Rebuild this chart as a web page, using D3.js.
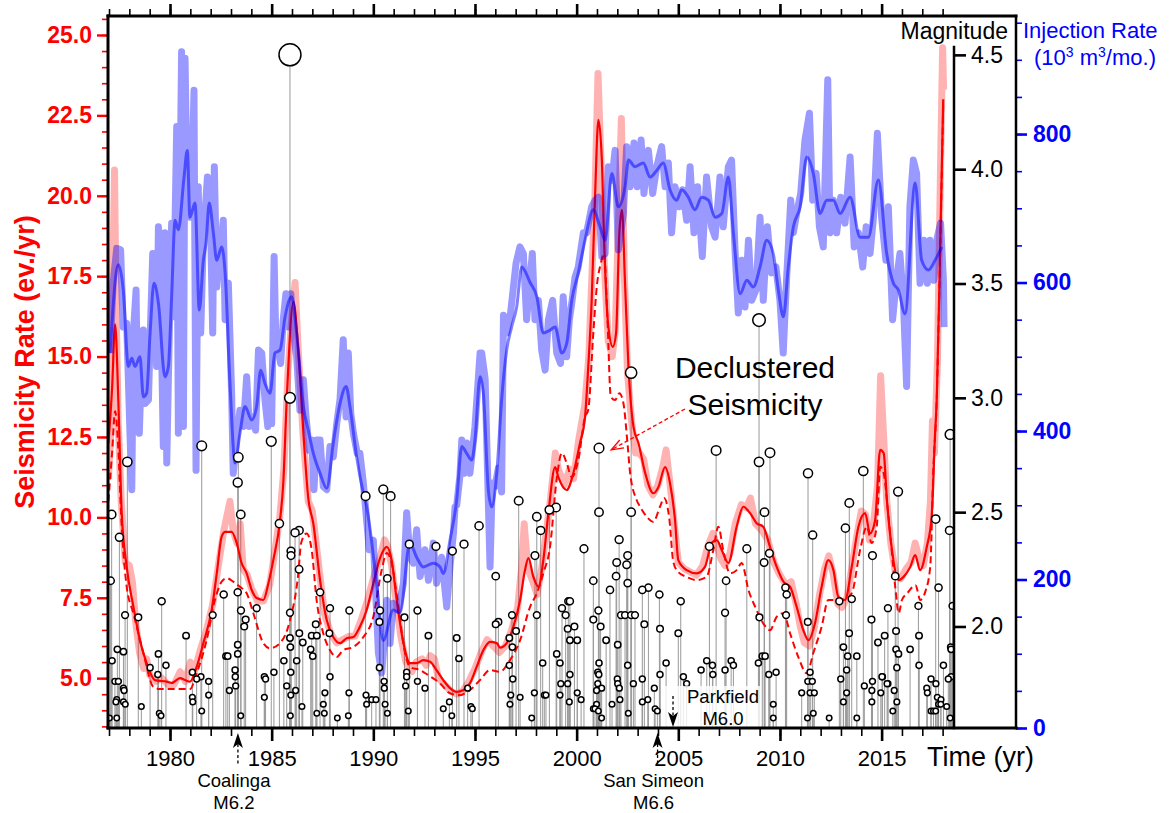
<!DOCTYPE html>
<html>
<head>
<meta charset="utf-8">
<script src="https://cdn.jsdelivr.net/npm/d3@7"></script>
<style>
  body { margin: 0; background: #fff; }
</style>
</head>
<body>
<svg id="chart" width="1174" height="813"></svg>
<script>
// ---- data ----
const yearTicks = [1980, 1985, 1990, 1995, 2000, 2005, 2010, 2015];
const rateTicks = [5, 7.5, 10, 12.5, 15, 17.5, 20, 22.5, 25];
const magTicks = [2.0, 2.5, 3.0, 3.5, 4.0, 4.5];
const injTicks = [0, 200, 400, 600, 800];

// monthly injection rate (10^3 m^3/mo.), raw
const injRaw = [[1977.05,505],[1977.2,599],[1977.38,646],[1977.57,644],[1977.7,540],[1977.87,545],[1978.03,397],[1978.12,321],[1978.2,532],[1978.33,590],[1978.39,464],[1978.49,397],[1978.61,500],[1978.69,536],[1978.77,437],[1978.94,442],[1979.02,523],[1979.15,639],[1979.26,613],[1979.34,487],[1979.43,675],[1979.51,630],[1979.67,379],[1979.75,667],[1979.84,357],[1980.0,581],[1980.08,680],[1980.16,554],[1980.25,684],[1980.33,810],[1980.41,397],[1980.49,720],[1980.57,911],[1980.66,406],[1980.74,902],[1980.85,711],[1980.9,715],[1980.98,688],[1981.07,729],[1981.18,859],[1981.28,347],[1981.39,729],[1981.51,532],[1981.64,661],[1981.84,742],[1981.97,711],[1982.1,532],[1982.18,756],[1982.3,594],[1982.43,639],[1982.49,648],[1982.62,684],[1982.71,550],[1982.87,599],[1983.03,451],[1983.11,343],[1983.28,392],[1983.44,428],[1983.61,406],[1983.77,473],[1983.9,406],[1984.07,419],[1984.21,401],[1984.35,509],[1984.51,505],[1984.67,442],[1984.81,406],[1984.92,451],[1985.0,410],[1985.12,635],[1985.21,514],[1985.33,509],[1985.44,491],[1985.57,550],[1985.7,585],[1985.82,540],[1985.94,585],[1986.07,532],[1986.23,500],[1986.39,428],[1986.56,469],[1986.69,419],[1986.85,374],[1986.97,388],[1987.08,321],[1987.21,388],[1987.38,388],[1987.54,325],[1987.71,321],[1987.87,379],[1988.03,365],[1988.2,410],[1988.36,442],[1988.52,523],[1988.66,419],[1988.77,505],[1988.89,424],[1989.02,397],[1989.21,370],[1989.34,370],[1989.51,330],[1989.67,280],[1989.8,240],[1990.0,253],[1990.25,101],[1990.41,74],[1990.57,128],[1990.66,172],[1990.82,114],[1990.98,168],[1991.23,159],[1991.48,195],[1991.64,290],[1991.8,230],[1991.97,222],[1992.13,267],[1992.3,204],[1992.54,240],[1992.71,199],[1992.95,249],[1993.11,195],[1993.36,230],[1993.61,163],[1993.77,217],[1993.94,262],[1994.02,298],[1994.1,300],[1994.26,340],[1994.35,388],[1994.46,343],[1994.59,384],[1994.75,343],[1995.0,406],[1995.25,505],[1995.33,505],[1995.5,470],[1995.74,217],[1995.85,330],[1995.98,325],[1996.15,350],[1996.31,318],[1996.4,556],[1996.56,532],[1996.75,559],[1997.02,626],[1997.21,648],[1997.38,639],[1997.54,550],[1997.82,639],[1997.95,550],[1998.12,576],[1998.28,509],[1998.45,482],[1998.61,550],[1998.82,576],[1999.02,505],[1999.21,491],[1999.34,581],[1999.51,500],[1999.64,550],[1999.76,572],[1999.92,607],[2000.08,621],[2000.33,667],[2000.49,667],[2000.74,702],[2000.91,711],[2001.07,715],[2001.24,635],[2001.4,639],[2001.56,756],[2001.73,738],[2001.89,778],[2002.05,644],[2002.3,693],[2002.46,783],[2002.63,729],[2002.82,788],[2002.98,729],[2003.17,792],[2003.31,720],[2003.53,778],[2003.74,720],[2003.94,756],[2004.18,783],[2004.35,729],[2004.51,761],[2004.67,667],[2004.84,729],[2005.05,702],[2005.21,725],[2005.41,684],[2005.58,756],[2005.77,667],[2005.95,729],[2006.18,635],[2006.39,742],[2006.64,675],[2006.81,661],[2007.05,742],[2007.21,675],[2007.46,756],[2007.62,765],[2007.79,644],[2007.95,559],[2008.12,630],[2008.28,567],[2008.45,657],[2008.61,576],[2008.82,590],[2009.02,688],[2009.18,576],[2009.38,675],[2009.59,613],[2009.8,621],[2010.0,576],[2010.16,505],[2010.33,607],[2010.53,711],[2010.66,667],[2010.82,693],[2011.02,720],[2011.23,792],[2011.45,828],[2011.61,711],[2011.78,747],[2011.94,675],[2012.13,648],[2012.35,873],[2012.46,667],[2012.63,711],[2012.79,667],[2012.99,715],[2013.2,680],[2013.45,769],[2013.65,648],[2013.86,667],[2014.07,621],[2014.24,675],[2014.43,639],[2014.6,688],[2014.79,801],[2015.0,688],[2015.21,630],[2015.33,702],[2015.54,550],[2015.71,599],[2015.9,639],[2016.07,576],[2016.23,460],[2016.39,702],[2016.56,765],[2016.72,747],[2016.89,599],[2017.08,657],[2017.25,599],[2017.38,657],[2017.57,603],[2017.74,661],[2017.9,680],[2018.04,603],[2018.07,540]];

// injection rate, smoothed
const injSmooth = [[1977.05,505],[1977.46,624],[1977.7,590],[1977.95,487],[1978.12,498],[1978.28,487],[1978.52,500],[1978.69,446],[1978.85,451],[1979.02,532],[1979.21,599],[1979.43,572],[1979.75,473],[1979.92,487],[1980.08,581],[1980.25,684],[1980.41,671],[1980.69,742],[1980.85,778],[1980.98,688],[1981.23,707],[1981.44,563],[1981.64,630],[1981.77,653],[1981.93,707],[1982.13,667],[1982.3,630],[1982.54,648],[1982.71,613],[1982.95,464],[1983.2,357],[1983.44,397],[1983.69,433],[1984.02,415],[1984.26,433],[1984.46,482],[1984.67,464],[1984.92,451],[1985.16,505],[1985.41,509],[1985.66,554],[1985.98,581],[1986.23,532],[1986.56,433],[1986.8,401],[1987.05,370],[1987.38,343],[1987.71,323],[1988.03,384],[1988.36,437],[1988.66,460],[1988.85,433],[1989.18,365],[1989.51,316],[1989.67,298],[1990.16,195],[1990.49,118],[1990.98,159],[1991.31,155],[1991.8,249],[1992.13,230],[1992.46,217],[1992.95,222],[1993.28,217],[1993.44,208],[1993.77,253],[1994.1,307],[1994.35,379],[1994.59,370],[1994.84,361],[1995.0,388],[1995.25,473],[1995.41,451],[1995.66,320],[1995.82,298],[1996.07,343],[1996.31,442],[1996.56,509],[1996.8,540],[1997.05,567],[1997.3,621],[1997.71,600],[1998.04,581],[1998.36,532],[1998.69,536],[1998.94,540],[1999.27,505],[1999.51,518],[1999.76,576],[2000.08,613],[2000.41,657],[2000.82,698],[2001.15,675],[2001.4,657],[2001.73,747],[2002.05,702],[2002.38,729],[2002.55,765],[2002.87,756],[2003.28,761],[2003.61,742],[2003.94,751],[2004.26,761],[2004.59,725],[2004.92,711],[2005.17,725],[2005.49,715],[2005.82,698],[2006.15,715],[2006.48,711],[2006.81,688],[2007.14,693],[2007.46,742],[2007.71,667],[2008.04,585],[2008.37,603],[2008.69,594],[2009.02,621],[2009.35,657],[2009.67,639],[2009.92,590],[2010.17,554],[2010.41,621],[2010.66,675],[2010.99,702],[2011.32,769],[2011.64,747],[2011.97,693],[2012.3,711],[2012.63,711],[2012.96,693],[2013.45,715],[2013.94,661],[2014.35,661],[2014.84,738],[2015.25,639],[2015.58,599],[2015.82,590],[2016.15,558],[2016.65,734],[2016.97,630],[2017.3,617],[2017.63,630],[2017.96,648]];

// seismicity rate (ev./yr), raw
const seisRaw = [[1976.97,11.2],[1977.1,12.8],[1977.2,18.0],[1977.27,20.8],[1977.35,16.5],[1977.45,13.0],[1977.6,10.5],[1977.8,8.6],[1978.0,8.5],[1978.15,8.0],[1978.3,6.8],[1978.5,5.8],[1978.7,5.3],[1978.85,5.6],[1979.0,5.1],[1979.3,4.9],[1979.6,5.0],[1979.9,4.8],[1980.2,4.8],[1980.5,5.2],[1980.75,4.9],[1981.0,5.5],[1981.2,5.2],[1981.5,5.9],[1981.8,6.5],[1982.1,7.3],[1982.4,8.6],[1982.65,9.6],[1982.95,10.5],[1983.1,9.6],[1983.3,9.2],[1983.45,9.8],[1983.6,8.4],[1983.8,8.2],[1984.0,7.8],[1984.3,7.4],[1984.6,7.4],[1984.9,7.9],[1985.1,8.7],[1985.4,10.0],[1985.6,11.5],[1985.8,14.5],[1986.0,16.3],[1986.15,17.3],[1986.3,15.3],[1986.55,12.5],[1986.8,10.5],[1987.0,10.2],[1987.15,9.4],[1987.35,8.3],[1987.6,7.0],[1987.9,6.4],[1988.2,6.1],[1988.5,6.2],[1988.8,6.3],[1989.1,6.3],[1989.4,6.8],[1989.7,7.4],[1990.0,8.1],[1990.3,8.7],[1990.55,9.3],[1990.7,9.1],[1990.9,8.5],[1991.1,7.5],[1991.35,6.3],[1991.6,5.5],[1991.9,5.2],[1992.1,5.5],[1992.4,5.6],[1992.6,5.4],[1992.8,5.7],[1993.0,5.6],[1993.2,5.0],[1993.5,4.8],[1993.8,4.6],[1994.1,4.5],[1994.4,4.6],[1994.7,4.9],[1995.0,5.3],[1995.3,5.8],[1995.6,6.2],[1995.9,6.0],[1996.2,5.8],[1996.5,6.0],[1996.8,6.5],[1997.1,7.2],[1997.3,8.5],[1997.42,9.8],[1997.6,8.4],[1997.85,8.0],[1998.05,7.6],[1998.3,8.5],[1998.5,9.5],[1998.7,10.5],[1998.95,12.0],[1999.1,11.5],[1999.4,11.0],[1999.65,11.5],[1999.85,11.2],[2000.1,12.4],[2000.4,13.5],[2000.6,15.0],[2000.75,17.5],[2000.9,20.0],[2001.05,23.8],[2001.2,21.0],[2001.35,18.0],[2001.55,15.5],[2001.75,15.0],[2001.9,15.8],[2002.05,19.0],[2002.2,22.4],[2002.35,17.5],[2002.5,14.5],[2002.7,13.0],[2002.9,12.0],[2003.1,12.0],[2003.3,11.8],[2003.5,11.0],[2003.75,10.7],[2004.0,11.0],[2004.25,11.6],[2004.4,12.1],[2004.6,11.0],[2004.8,9.8],[2005.0,8.6],[2005.3,8.4],[2005.6,8.3],[2005.9,8.2],[2006.2,8.5],[2006.45,9.1],[2006.7,9.5],[2006.9,9.1],[2007.1,8.7],[2007.3,8.5],[2007.55,8.9],[2007.8,9.8],[2008.1,10.4],[2008.35,10.3],[2008.55,10.6],[2008.8,9.8],[2009.1,9.6],[2009.4,9.3],[2009.7,8.6],[2010.0,8.2],[2010.3,7.9],[2010.55,8.0],[2010.8,7.3],[2011.0,6.6],[2011.2,6.1],[2011.45,6.0],[2011.7,6.6],[2011.95,7.6],[2012.2,8.4],[2012.4,8.8],[2012.6,8.3],[2012.85,7.3],[2013.05,7.2],[2013.3,7.5],[2013.55,8.5],[2013.8,9.5],[2014.0,10.2],[2014.2,10.1],[2014.4,9.3],[2014.6,9.8],[2014.8,11.0],[2014.95,14.4],[2015.1,12.5],[2015.25,10.5],[2015.45,9.2],[2015.7,8.2],[2015.95,8.1],[2016.2,8.4],[2016.45,8.6],[2016.65,9.2],[2016.85,8.7],[2017.05,8.5],[2017.25,9.2],[2017.4,10.5],[2017.5,13.0],[2017.6,12.0],[2017.75,15.0],[2017.9,21.0],[2018.0,24.6],[2018.05,23.3]];

// seismicity rate, smoothed
const seisSmooth = [[1976.97,12.3],[1977.15,14.0],[1977.3,16.0],[1977.46,13.6],[1977.62,10.2],[1977.87,8.46],[1978.2,7.22],[1978.52,6.18],[1978.85,5.47],[1979.26,4.94],[1979.84,4.89],[1980.08,4.85],[1980.49,5.0],[1980.74,4.94],[1980.98,4.89],[1981.31,5.35],[1981.64,6.09],[1982.05,7.12],[1982.3,8.26],[1982.54,9.4],[1982.71,9.55],[1983.03,9.55],[1983.28,9.2],[1983.52,8.58],[1983.77,8.26],[1984.02,7.74],[1984.26,7.49],[1984.59,7.43],[1984.84,7.95],[1985.08,8.67],[1985.41,9.91],[1985.57,11.06],[1985.74,13.65],[1986.07,16.7],[1986.31,15.2],[1986.56,12.62],[1986.8,10.6],[1987.05,9.8],[1987.38,8.05],[1987.71,6.8],[1988.03,6.28],[1988.36,6.09],[1988.69,6.24],[1989.02,6.28],[1989.34,6.6],[1989.67,7.12],[1990.0,7.95],[1990.33,8.73],[1990.66,9.08],[1990.9,8.67],[1991.15,7.43],[1991.48,6.09],[1991.8,5.47],[1992.13,5.47],[1992.46,5.56],[1992.79,5.51],[1993.11,5.25],[1993.44,4.94],[1993.77,4.69],[1994.1,4.57],[1994.43,4.63],[1994.75,4.84],[1995.08,5.35],[1995.41,5.87],[1995.74,6.13],[1996.07,6.09],[1996.23,5.95],[1996.56,6.09],[1996.89,6.6],[1997.22,7.43],[1997.46,8.36],[1997.63,8.73],[1997.87,8.15],[1998.12,7.84],[1998.36,8.67],[1998.61,10.13],[1998.94,11.56],[1999.1,11.25],[1999.51,10.85],[1999.84,11.38],[2000.16,12.3],[2000.41,13.1],[2000.57,14.67],[2000.74,16.76],[2000.9,19.87],[2001.07,22.36],[2001.24,21.11],[2001.35,18.62],[2001.56,15.92],[2001.78,15.3],[2001.94,15.73],[2002.1,18.84],[2002.23,19.56],[2002.38,17.28],[2002.55,14.67],[2002.8,12.8],[2003.04,12.31],[2003.37,11.38],[2003.77,10.75],[2004.02,10.94],[2004.35,11.56],[2004.59,11.07],[2004.84,9.91],[2005.0,8.67],[2005.41,8.36],[2005.9,8.26],[2006.31,8.46],[2006.64,9.2],[2006.89,9.29],[2007.14,8.98],[2007.46,8.58],[2007.87,9.71],[2008.2,10.33],[2008.53,10.13],[2008.85,9.82],[2009.18,9.71],[2009.51,9.08],[2009.84,8.46],[2010.17,8.0],[2010.5,7.84],[2010.82,7.22],[2011.15,6.49],[2011.4,6.18],[2011.72,6.7],[2012.05,7.84],[2012.38,8.67],[2012.63,8.36],[2012.87,7.53],[2013.2,7.43],[2013.53,8.46],[2013.86,9.71],[2014.19,10.13],[2014.43,9.5],[2014.68,9.91],[2014.93,12.1],[2015.1,12.0],[2015.26,10.54],[2015.51,8.98],[2015.84,8.05],[2016.08,8.15],[2016.41,8.46],[2016.65,8.83],[2016.89,8.36],[2017.22,9.08],[2017.46,10.02],[2017.63,12.62],[2017.71,13.65],[2017.85,17.5],[2018.03,23.0]];

// declustered seismicity rate
const seisDeclustered = [[1976.97,10.5],[1977.15,12.0],[1977.3,13.3],[1977.45,12.2],[1977.6,10.0],[1977.87,7.84],[1978.2,7.02],[1978.69,5.78],[1979.18,4.73],[1979.51,4.66],[1980.0,4.66],[1980.98,4.66],[1981.31,5.15],[1981.8,6.18],[1982.21,7.43],[1982.54,8.0],[1982.79,8.11],[1983.11,8.0],[1983.44,7.84],[1983.77,7.64],[1984.1,7.02],[1984.59,6.09],[1984.92,5.93],[1985.41,6.09],[1985.9,6.8],[1986.31,8.26],[1986.45,9.2],[1986.72,9.5],[1986.97,8.98],[1987.21,7.43],[1987.54,6.39],[1987.87,5.87],[1988.2,5.66],[1988.52,5.87],[1989.02,5.97],[1989.51,6.28],[1990.0,6.91],[1990.41,8.36],[1990.66,8.89],[1990.9,8.58],[1991.23,7.22],[1991.56,5.78],[1991.8,5.35],[1992.3,5.25],[1992.71,5.09],[1993.28,4.84],[1993.77,4.53],[1994.26,4.47],[1994.75,4.63],[1995.25,4.94],[1995.74,5.25],[1996.23,5.2],[1996.72,5.56],[1997.22,6.18],[1997.71,7.22],[1998.04,7.64],[1998.36,8.26],[1998.69,9.08],[1999.02,11.2],[1999.27,12.0],[1999.51,11.69],[1999.76,11.25],[2000.08,11.78],[2000.41,13.12],[2000.57,13.34],[2000.82,15.73],[2000.99,17.17],[2001.19,17.9],[2001.35,18.2],[2001.51,16.23],[2001.68,13.75],[2001.89,13.65],[2002.1,13.86],[2002.3,13.55],[2002.5,12.31],[2002.63,11.38],[2002.95,10.54],[2003.12,10.33],[2003.45,10.02],[2003.77,9.86],[2004.1,10.33],[2004.3,10.6],[2004.55,10.0],[2004.76,8.6],[2005.0,8.3],[2005.41,8.15],[2005.9,8.05],[2006.39,8.15],[2006.72,8.98],[2006.97,9.71],[2007.21,8.98],[2007.54,8.26],[2007.87,8.36],[2008.12,8.58],[2008.45,7.74],[2008.78,7.22],[2009.18,6.7],[2009.51,6.49],[2009.84,6.91],[2010.17,7.02],[2010.5,6.39],[2010.9,5.66],[2011.32,5.15],[2011.64,5.78],[2012.05,6.6],[2012.38,7.43],[2012.79,7.43],[2013.12,7.43],[2013.53,7.64],[2013.94,8.98],[2014.27,9.71],[2014.51,9.2],[2014.76,9.71],[2014.93,11.57],[2015.1,11.37],[2015.34,10.02],[2015.67,7.84],[2015.84,7.02],[2016.0,7.43],[2016.26,7.64],[2016.67,7.89],[2016.9,7.43],[2017.15,7.69],[2017.39,8.46],[2017.55,11.57],[2017.71,13.65],[2017.85,17.4],[2018.03,22.9]];

// earthquakes: [decimal year, magnitude]
const quakes = [[1977.13,2.49],[1977.9,2.72],[1981.56,2.79],[1983.36,2.74],[1983.33,2.63],[1983.48,2.49],[1984.98,2.81],[1985.9,3.0],[1985.9,4.5],[1989.62,2.57],[1990.49,2.6],[1990.85,2.57],[1997.15,2.55],
[2008.97,3.34],[2002.68,3.11],[2001.1,2.78],[2006.86,2.77],[2008.97,2.72],[2009.51,2.76],[2011.38,2.67],[2014.1,2.68],[2015.81,2.59],[2018.37,2.84],[2013.41,2.54],[1998.66,2.51],[1998.99,2.52],[1998.04,2.48],[2001.1,2.5],[2002.68,2.5],[2009.24,2.5],[2017.66,2.47],
[1977.51,2.39],[1977.08,2.2],[1977.15,1.85],[1977.79,2.05],[1977.41,1.9],[1977.71,1.89],[1977.29,1.76],[1977.46,1.76],[1977.71,1.73],[1977.74,1.72],[1977.38,1.68],[1977.34,1.67],[1977.71,1.67],[1977.8,1.66],[1977.38,1.6],[1977.02,1.6],[1978.44,2.04],[1978.59,1.65],[1979.02,1.82],[1979.43,1.88],[1979.59,2.11],[1979.4,1.79],[1979.8,1.83],[1979.47,1.62],[1979.56,1.61],[1980.79,1.96],[1981.1,1.8],[1981.1,1.69],[1981.12,1.67],[1981.31,1.77],[1981.52,1.78],[1981.56,1.63],[1981.9,1.76],[1981.9,1.7],[1982.1,2.05],[1982.64,2.14],[1982.75,1.87],[1982.84,1.87],[1982.92,1.72],[1983.2,1.81],[1983.21,1.78],[1983.23,1.74],[1983.33,1.92],[1983.33,1.88],[1983.33,2.15],[1983.49,2.07],[1983.72,2.03],[1983.65,2.0],[1983.48,1.61],[1984.26,2.08],[1984.64,1.78],[1984.7,1.77],[1984.64,1.69],[1985.11,1.8],[1985.38,2.45],[1985.95,2.33],[1985.95,2.31],[1986.35,2.25],[1986.15,2.41],[1986.35,2.42],[1985.9,2.06],[1985.9,1.95],[1985.92,1.91],[1986.36,1.97],[1986.23,1.85],[1985.94,1.8],[1985.6,1.85],[1985.74,1.74],[1985.94,1.7],[1986.18,1.72],[1985.92,1.61],[1986.53,1.93],[1986.49,1.65],[1986.92,1.9],[1987.02,1.87],[1986.97,1.96],[1987.22,1.96],[1987.17,2.01],[1987.38,2.15],[1987.87,2.08],[1987.84,1.97],[1987.87,1.78],[1987.62,1.71],[1987.54,1.66],[1987.59,1.62],[1987.22,1.62],[1988.23,1.6],[1988.77,1.61],[1988.82,2.07],[1988.8,1.71],[1989.64,1.7],[1989.67,1.66],[1989.92,1.68],[1990.13,1.68],[1990.3,1.82],[1990.33,2.07],[1990.3,2.02],[1990.69,2.21],[1990.53,1.76],[1990.54,1.73],[1990.58,1.66],[1990.69,1.62],[1991.53,2.04],[1991.77,2.36],[1992.17,2.07],[1991.64,1.8],[1991.64,1.78],[1991.59,1.74],[1992.17,1.76],[1991.72,1.63],[1992.54,1.73],[1992.71,1.96],[1993.08,2.35],[1993.89,2.33],[1994.46,2.36],[1995.2,2.44],[1994.1,1.95],[1994.21,1.86],[1993.44,1.64],[1993.74,1.67],[1993.86,1.61],[1994.64,1.73],[1994.8,1.65],[1994.87,1.64],[1996.02,2.22],[1996.02,2.01],[1996.15,2.02],
[1998.23,2.42],[1997.95,2.31],[1998.04,2.05],[1996.82,2.05],[1996.69,1.95],[1996.84,1.91],[1997.02,1.98],[1996.69,1.83],[1996.86,1.77],[1996.76,1.7],[1996.72,1.66],[1997.22,1.69],[1997.79,1.6],[1997.92,1.71],[1998.33,1.84],[1998.41,1.7],[1998.49,1.7],[1999.02,1.88],[1999.18,1.84],[1999.22,1.75],[1999.18,1.7],[1999.28,2.08],[1999.46,2.05],[1999.59,2.11],[1999.67,2.11],[1999.56,1.99],[1999.89,2.0],[1999.67,1.94],[2000.03,1.94],[1999.56,1.75],[1999.67,1.79],[1999.64,1.67],[2000.03,1.71],[2000.22,1.68],[2000.36,2.34],[2000.82,2.2],[2001.07,2.07],[2000.82,2.03],[2001.18,2.0],[2001.1,1.84],[2001.04,1.8],[2001.09,1.79],[2001.04,1.75],[2000.98,1.72],[2001.23,1.73],[2000.98,1.66],[2000.82,1.64],[2000.9,1.64],[2001.07,1.63],[2001.23,1.6],[2001.45,1.94],[2001.64,2.16],[2001.74,1.66],[2001.94,2.22],[2001.97,2.28],[2002.09,2.38],[2002.02,1.92],[2002.0,1.77],[2002.02,1.75],[2002.1,1.73],[2002.13,1.68],[2002.51,2.31],[2002.46,2.27],[2002.51,2.19],[2002.18,2.05],[2002.38,2.05],[2002.68,2.05],[2002.87,2.05],[2002.51,1.83],[2002.79,1.75],[2002.54,1.62],[2003.23,2.16],[2003.53,2.17],[2003.33,2.01],[2003.23,1.77],[2003.23,1.67],[2003.5,1.68],[2003.86,1.64],[2003.97,1.63],[2004.07,2.14],[2004.1,1.99],[2004.1,1.79],[2003.82,1.73],[2005.0,1.97],[2005.12,2.11],[2004.4,1.84],[2005.25,1.78],[2005.41,1.75],[2006.12,1.81],[2006.4,1.85],[2006.68,1.83],[2006.7,1.79],[2007.3,1.81],[2007.3,2.06],[2007.6,1.85],[2007.71,1.83],[2006.53,2.35],[2007.35,2.2],[2008.37,2.34],[2009.22,2.28],[2009.48,2.32],[2008.99,2.04],[2008.94,1.84],[2009.13,1.87],[2009.27,1.87],[2009.45,1.79],[2009.81,1.8],[2009.67,1.66],[2009.67,1.6],[2010.27,2.17],[2010.33,2.14],[2010.3,2.05],[2011.61,2.4],[2011.37,2.02],[2011.48,1.8],[2011.37,1.76],[2011.59,1.76],[2011.48,1.71],[2011.69,1.71],[2011.07,1.71],[2011.64,1.62],[2011.35,1.6],[2012.42,1.6],[2012.92,2.11],[2013.22,2.43],[2013.4,1.97],[2013.12,1.91],[2013.33,1.87],[2012.99,1.77],[2013.28,1.81],[2013.28,1.71],[2013.12,1.67],[2013.78,1.87],[2013.78,1.6],[2013.53,2.12],[2014.55,2.31],[2014.5,2.03],[2015.15,1.96],[2014.82,1.93],[2015.31,2.08],[2015.67,2.22],[2014.15,1.74],[2014.55,1.76],[2014.52,1.72],[2015.04,1.78],[2014.96,1.71],[2015.31,1.75],[2014.52,1.67],[2015.75,1.67],[2015.75,1.82],
[2018.34,2.42],[2017.8,2.17],[2018.49,2.09],[2016.81,2.09],[2015.71,1.98],[2015.71,1.9],[2015.83,1.88],[2016.4,1.9],[2016.84,1.96],[2016.84,1.83],[2018.4,1.91],[2018.42,1.9],[2018.04,1.83],[2017.22,1.73],[2017.25,1.71],[2017.43,1.77],[2017.67,1.75],[2017.74,1.69],[2017.92,1.68],[2017.8,1.66],[2017.91,1.66],[2017.43,1.63],[2017.55,1.63],[2017.66,1.63],[2018.2,1.65],[2018.28,1.77],[2018.42,1.78],[2018.37,1.6],[2015.02,1.78],[2015.27,1.75],[2015.62,1.72],[2015.55,1.63]];

// large regional mainshocks
const mainshocks = [
  { name: "Coalinga", mag: "M6.2", year: 1983.34, dir: "up" },
  { name: "San Simeon", mag: "M6.6", year: 2003.98, dir: "up" },
  { name: "Parkfield", mag: "M6.0", year: 2004.74, dir: "down" }
];

// ---- layout ----
const pLeft = 108, pRight = 954, pTop = 16, pBottom = 728, injAxisX = 1016;
const font = "'Liberation Sans', Arial, Helvetica, sans-serif";

const x = d3.scaleLinear().domain([1976.95, 2018.56]).range([pLeft, pRight]);
const yRate = d3.scaleLinear().domain([3.45, 25.59]).range([pBottom, pTop]);
const yMag = d3.scaleLinear().domain([1.556, 4.67]).range([pBottom, pTop]);
const yInj = d3.scaleLinear().domain([0, 959]).range([pBottom, pTop]);
// circle size grows exponentially with magnitude
const rLog = d3.scaleLinear().domain([1.8, 4.5]).range([Math.log10(3), Math.log10(11)]);
const radius = m => Math.pow(10, rLog(m));

const svg = d3.select("#chart");

svg.append("defs").append("clipPath").attr("id", "plotArea")
  .append("rect")
  .attr("x", pLeft).attr("y", pTop)
  .attr("width", pRight - pLeft).attr("height", pBottom - pTop);

const plot = svg.append("g").attr("clip-path", "url(#plotArea)");

const lineOf = (ys, curve) => d3.line()
  .x(d => x(d[0])).y(d => ys(d[1]))
  .curve(curve || d3.curveLinear);

// stems of the magnitude plot
plot.append("g").selectAll("line")
  .data(quakes)
  .join("line")
  .attr("x1", d => x(d[0])).attr("x2", d => x(d[0]))
  .attr("y1", pBottom).attr("y2", d => yMag(d[1]))
  .attr("stroke", "#999").attr("stroke-width", 1);

// seismicity
plot.append("path").datum(seisRaw)
  .attr("fill", "none").attr("stroke", "#ff0000").attr("stroke-opacity", 0.3)
  .attr("stroke-width", 7).attr("stroke-linejoin", "round")
  .attr("d", lineOf(yRate));

plot.append("path").datum(seisDeclustered)
  .attr("fill", "none").attr("stroke", "#ff0000")
  .attr("stroke-width", 2).attr("stroke-dasharray", "7,4")
  .attr("d", lineOf(yRate, d3.curveMonotoneX));

plot.append("path").datum(seisSmooth)
  .attr("fill", "none").attr("stroke", "#ff0000")
  .attr("stroke-width", 2.2)
  .attr("d", lineOf(yRate, d3.curveMonotoneX));

// injection
plot.append("path").datum(injRaw)
  .attr("fill", "none").attr("stroke", "#0000ff").attr("stroke-opacity", 0.4)
  .attr("stroke-width", 7).attr("stroke-linejoin", "round")
  .attr("d", lineOf(yInj));

plot.append("path").datum(injSmooth)
  .attr("fill", "none").attr("stroke", "#0000ff").attr("stroke-opacity", 0.5)
  .attr("stroke-width", 3)
  .attr("d", lineOf(yInj, d3.curveMonotoneX));

// magnitude circles
plot.append("g").selectAll("circle")
  .data(quakes.slice().sort((a, b) => b[1] - a[1]))
  .join("circle")
  .attr("cx", d => x(d[0])).attr("cy", d => yMag(d[1]))
  .attr("r", d => radius(d[1]))
  .attr("fill", "#fff").attr("stroke", "#000").attr("stroke-width", 1.5);

// ---- annotations ----
const ann = svg.append("g").attr("font-family", font);

const park = mainshocks[2];
ann.append("rect")
  .attr("x", x(park.year) - 9).attr("y", 686)
  .attr("width", 97).attr("height", pBottom - 686)
  .attr("fill", "#fff").attr("fill-opacity", 0.8);

// two-line label as one text element
const twoLine = (cx, y, l1, l2, size, gap) => {
  const t = ann.append("text").attr("text-anchor", "middle").attr("font-size", size);
  t.append("tspan").attr("x", cx).attr("y", y).text(l1);
  t.append("tspan").attr("x", cx).attr("dy", gap).text(l2);
  return t;
};

mainshocks.forEach(s => {
  const sx = x(s.year);
  if (s.dir === "up") {
    ann.append("line").attr("x1", sx).attr("x2", sx).attr("y1", 744).attr("y2", 764)
      .attr("stroke", "#000").attr("stroke-width", 1.3).attr("stroke-dasharray", "3,2.5");
    ann.append("path")
      .attr("d", `M${sx},733 L${sx - 5},748 L${sx},744 L${sx + 5},748 Z`)
      .attr("fill", "#000");
    twoLine(sx - 4, 787, s.name, s.mag, 18.5, 21.5);
  } else {
    ann.append("line").attr("x1", sx).attr("x2", sx).attr("y1", 696).attr("y2", 716)
      .attr("stroke", "#000").attr("stroke-width", 1.3).attr("stroke-dasharray", "3,2.5");
    ann.append("path")
      .attr("d", `M${sx},727 L${sx - 5},712 L${sx},716 L${sx + 5},712 Z`)
      .attr("fill", "#000");
    twoLine(sx + 50, 703, s.name, s.mag, 18.5, 21.5);
  }
});

// "Declustered Seismicity" label with arrow onto the dashed curve
twoLine(755, 378, "Declustered", "Seismicity", 30, 37);
{
  const x0 = 685, y0 = 409;
  const x1 = x(2001.7), y1 = yRate(12.1);
  const a = Math.atan2(y1 - y0, x1 - x0), L = 13;
  ann.append("line").attr("x1", x0).attr("y1", y0).attr("x2", x1).attr("y2", y1)
    .attr("stroke", "#ff0000").attr("stroke-width", 1.3).attr("stroke-dasharray", "4,2.5");
  ann.append("path")
    .attr("d", `M${x1 - L * Math.cos(a - 0.35)},${y1 - L * Math.sin(a - 0.35)} L${x1},${y1} L${x1 - L * Math.cos(a + 0.35)},${y1 - L * Math.sin(a + 0.35)}`)
    .attr("fill", "none").attr("stroke", "#ff0000").attr("stroke-width", 1.3);
}

// ---- axes ----
const finish = (g, color, size, weight) => {
  g.select(".domain").remove();
  g.attr("font-family", font).attr("font-size", size).attr("color", color);
  if (weight) g.attr("font-weight", weight);
};

// bottom time axis
svg.append("g").attr("transform", `translate(0,${pBottom})`)
  .call(d3.axisBottom(x).tickValues(d3.range(1977, 2019)).tickSize(8).tickFormat(""))
  .call(g => finish(g, "#000", 22))
  .call(g => g.selectAll("line").attr("stroke-width", 1.6));
svg.append("g").attr("transform", `translate(0,${pBottom})`)
  .call(d3.axisBottom(x).tickValues(yearTicks).tickSize(13).tickPadding(9).tickFormat(d3.format("d")))
  .call(g => finish(g, "#000", 22))
  .call(g => g.selectAll("line").attr("stroke-width", 2.6));

// top time axis (ticks only)
svg.append("g").attr("transform", `translate(0,${pTop})`)
  .call(d3.axisTop(x).tickValues(d3.range(1977, 2019)).tickSize(7).tickFormat(""))
  .call(g => finish(g, "#000", 10))
  .call(g => g.selectAll("line").attr("stroke-width", 1.6));
svg.append("g").attr("transform", `translate(0,${pTop})`)
  .call(d3.axisTop(x).tickValues(yearTicks).tickSize(12).tickFormat(""))
  .call(g => finish(g, "#000", 10))
  .call(g => g.selectAll("line").attr("stroke-width", 2.6));

// left seismicity-rate axis
svg.append("g").attr("transform", `translate(${pLeft},0)`)
  .call(d3.axisLeft(yRate).tickValues(d3.range(3.5, 25.6, 0.5)).tickSize(6).tickFormat(""))
  .call(g => finish(g, "#ff0000", 10))
  .call(g => g.selectAll("line").attr("stroke-width", 1.6));
svg.append("g").attr("transform", `translate(${pLeft},0)`)
  .call(d3.axisLeft(yRate).tickValues(rateTicks).tickSize(11).tickPadding(5).tickFormat(d3.format(".1f")))
  .call(g => finish(g, "#ff0000", 23, "bold"))
  .call(g => g.selectAll("line").attr("stroke-width", 2.4));

// magnitude axis
svg.append("g").attr("transform", `translate(${pRight},0)`)
  .call(d3.axisRight(yMag).tickValues(magTicks).tickSize(12).tickPadding(5).tickFormat(d3.format(".1f")))
  .call(g => finish(g, "#000", 23))
  .call(g => g.selectAll("line").attr("stroke-width", 2.6));

// injection axis
svg.append("g").attr("transform", `translate(${injAxisX},0)`)
  .call(d3.axisRight(yInj).tickValues(d3.range(0, 951, 50)).tickSize(6).tickFormat(""))
  .call(g => finish(g, "#0000ff", 10))
  .call(g => g.selectAll("line").attr("stroke-width", 1.6));
svg.append("g").attr("transform", `translate(${injAxisX},0)`)
  .call(d3.axisRight(yInj).tickValues(injTicks).tickSize(11).tickPadding(6).tickFormat(d3.format("d")))
  .call(g => finish(g, "#0000ff", 23, "bold"))
  .call(g => g.selectAll("line").attr("stroke-width", 2.6));

// frame
const frame = svg.append("g").attr("stroke", "#000").attr("stroke-linecap", "square");
frame.append("line").attr("x1", pLeft).attr("x2", injAxisX).attr("y1", pTop).attr("y2", pTop).attr("stroke-width", 3);
frame.append("line").attr("x1", pLeft).attr("x2", injAxisX).attr("y1", pBottom).attr("y2", pBottom).attr("stroke-width", 3);
frame.append("line").attr("x1", pLeft).attr("x2", pLeft).attr("y1", pTop).attr("y2", pBottom).attr("stroke-width", 3);
frame.append("line").attr("x1", injAxisX).attr("x2", injAxisX).attr("y1", pTop).attr("y2", pBottom).attr("stroke-width", 2.5);
frame.append("line").attr("x1", pRight).attr("x2", pRight).attr("y1", 47).attr("y2", pBottom).attr("stroke-width", 2.5);

// axis titles
const titles = svg.append("g").attr("font-family", font);
titles.append("text")
  .attr("transform", "translate(34,362) rotate(-90)")
  .attr("text-anchor", "middle").attr("font-size", 27).attr("font-weight", "bold")
  .attr("fill", "#ff0000").text("Seismicity Rate (ev./yr)");
titles.append("text").attr("x", 927).attr("y", 766)
  .attr("font-size", 27).attr("fill", "#000").text("Time (yr)");
titles.append("text").attr("x", 1008).attr("y", 39).attr("text-anchor", "end")
  .attr("font-size", 23).attr("fill", "#000").text("Magnitude");
titles.append("text").attr("x", 1023).attr("y", 38)
  .attr("font-size", 22).attr("fill", "#0000ff").text("Injection Rate");
const unit = titles.append("text").attr("x", 1095).attr("y", 65).attr("text-anchor", "middle")
  .attr("font-size", 22).attr("fill", "#0000ff");
unit.append("tspan").text("(10");
unit.append("tspan").attr("dy", -8).attr("font-size", 14).text("3");
unit.append("tspan").attr("dy", 8).text(" m");
unit.append("tspan").attr("dy", -8).attr("font-size", 14).text("3");
unit.append("tspan").attr("dy", 8).text("/mo.)");
</script>
</body>
</html>
